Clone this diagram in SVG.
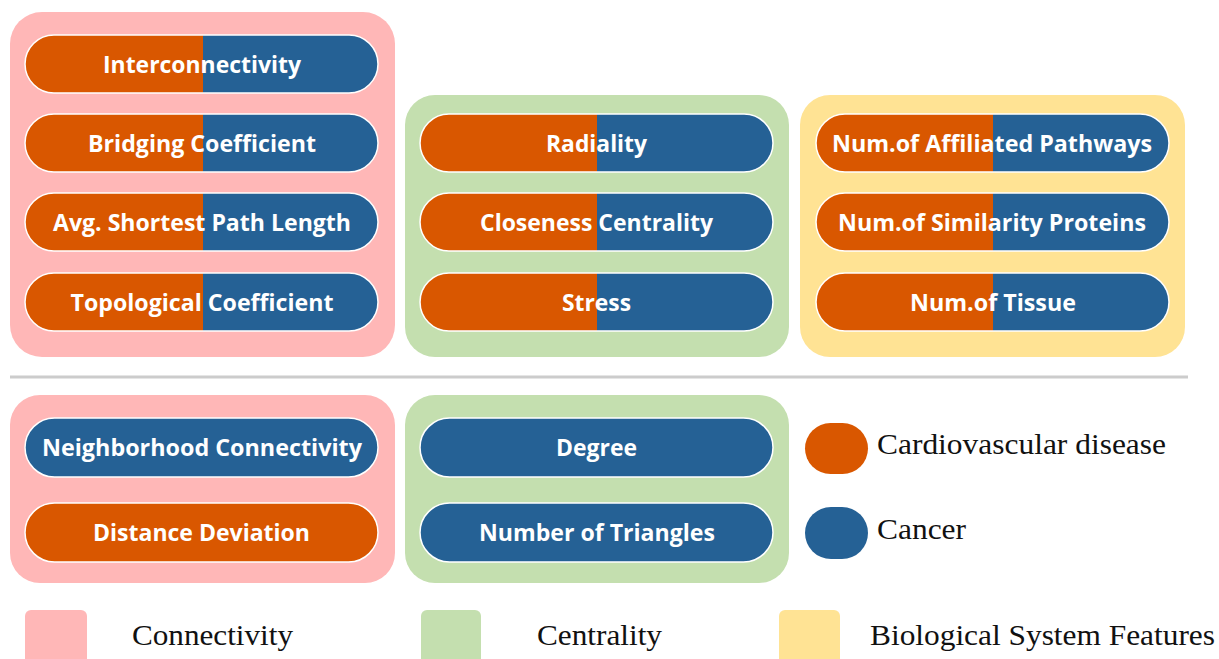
<svg xmlns="http://www.w3.org/2000/svg" width="1219" height="659" viewBox="0 0 1219 659">
  <defs>
    <style>
      .pink { fill: #FFB7B7; }
      .green { fill: #C4DFAF; }
      .yellow { fill: #FFE394; }
      .cvd { fill: #D95700; }
      .can { fill: #256195; }
      .rim { fill: none; stroke: #FFFFFF; stroke-width: 1.5; }
      .lbl { font-family: "Open Sans", "Liberation Sans", sans-serif; font-weight: 700; font-size: 23.5px; fill: #FFFFFF; text-anchor: middle; }
      .leg { font-family: "Liberation Serif", "Times New Roman", serif; font-size: 30px; fill: #111111; }
    </style>
  </defs>

  <rect width="1219" height="659" fill="#FFFFFF"/>

  <!-- category panels -->
  <g id="panels">
    <rect class="pink" x="10" y="12" width="385" height="345" rx="32"/>
    <rect class="green" x="405" y="95" width="384" height="262" rx="30"/>
    <rect class="yellow" x="800" y="95" width="385" height="262" rx="30"/>
    <rect class="pink" x="10" y="395" width="385" height="188" rx="30"/>
    <rect class="green" x="405" y="395" width="384" height="188" rx="30"/>
  </g>

  <!-- divider -->
  <g id="connectors">
    <line x1="10" y1="377" x2="1188" y2="377" stroke="#CCCCCC" stroke-width="3"/>
  </g>

  <!-- Connectivity: shared features -->
  <g id="interconnectivity">
    <path class="cvd" d="M54,35 H203 V93 H54 A29,29 0 0 1 54,35 Z"/>
    <path class="can" d="M203,35 H349 A29,29 0 0 1 349,93 H203 Z"/>
    <rect class="rim" x="25" y="35" width="353" height="58" rx="29"/>
    <text class="lbl" x="202" y="73" textLength="198" lengthAdjust="spacingAndGlyphs">Interconnectivity</text>
  </g>
  <g id="bridging-coefficient">
    <path class="cvd" d="M54,114 H203 V172 H54 A29,29 0 0 1 54,114 Z"/>
    <path class="can" d="M203,114 H349 A29,29 0 0 1 349,172 H203 Z"/>
    <rect class="rim" x="25" y="114" width="353" height="58" rx="29"/>
    <text class="lbl" x="202" y="152" textLength="228" lengthAdjust="spacingAndGlyphs">Bridging Coefficient</text>
  </g>
  <g id="avg-shortest-path">
    <path class="cvd" d="M54,193 H203 V251 H54 A29,29 0 0 1 54,193 Z"/>
    <path class="can" d="M203,193 H349 A29,29 0 0 1 349,251 H203 Z"/>
    <rect class="rim" x="25" y="193" width="353" height="58" rx="29"/>
    <text class="lbl" x="202" y="231" textLength="298" lengthAdjust="spacingAndGlyphs">Avg. Shortest Path Length</text>
  </g>
  <g id="topological-coefficient">
    <path class="cvd" d="M54,273 H203 V331 H54 A29,29 0 0 1 54,273 Z"/>
    <path class="can" d="M203,273 H349 A29,29 0 0 1 349,331 H203 Z"/>
    <rect class="rim" x="25" y="273" width="353" height="58" rx="29"/>
    <text class="lbl" x="202" y="311" textLength="263" lengthAdjust="spacingAndGlyphs">Topological Coefficient</text>
  </g>

  <!-- Centrality: shared features -->
  <g id="radiality">
    <path class="cvd" d="M449,114 H597 V172 H449 A29,29 0 0 1 449,114 Z"/>
    <path class="can" d="M597,114 H744 A29,29 0 0 1 744,172 H597 Z"/>
    <rect class="rim" x="420" y="114" width="353" height="58" rx="29"/>
    <text class="lbl" x="596.5" y="152" textLength="101" lengthAdjust="spacingAndGlyphs">Radiality</text>
  </g>
  <g id="closeness-centrality">
    <path class="cvd" d="M449,193 H597 V251 H449 A29,29 0 0 1 449,193 Z"/>
    <path class="can" d="M597,193 H744 A29,29 0 0 1 744,251 H597 Z"/>
    <rect class="rim" x="420" y="193" width="353" height="58" rx="29"/>
    <text class="lbl" x="596.5" y="231" textLength="233" lengthAdjust="spacingAndGlyphs">Closeness Centrality</text>
  </g>
  <g id="stress">
    <path class="cvd" d="M449,273 H597 V331 H449 A29,29 0 0 1 449,273 Z"/>
    <path class="can" d="M597,273 H744 A29,29 0 0 1 744,331 H597 Z"/>
    <rect class="rim" x="420" y="273" width="353" height="58" rx="29"/>
    <text class="lbl" x="596.5" y="311" textLength="69" lengthAdjust="spacingAndGlyphs">Stress</text>
  </g>

  <!-- Biological system features -->
  <g id="affiliated-pathways">
    <path class="cvd" d="M845,114 H993 V172 H845 A29,29 0 0 1 845,114 Z"/>
    <path class="can" d="M993,114 H1140 A29,29 0 0 1 1140,172 H993 Z"/>
    <rect class="rim" x="816" y="114" width="353" height="58" rx="29"/>
    <text class="lbl" x="992" y="152" textLength="320" lengthAdjust="spacingAndGlyphs">Num.of Affiliated Pathways</text>
  </g>
  <g id="similarity-proteins">
    <path class="cvd" d="M845,193 H993 V251 H845 A29,29 0 0 1 845,193 Z"/>
    <path class="can" d="M993,193 H1140 A29,29 0 0 1 1140,251 H993 Z"/>
    <rect class="rim" x="816" y="193" width="353" height="58" rx="29"/>
    <text class="lbl" x="992" y="231" textLength="308" lengthAdjust="spacingAndGlyphs">Num.of Similarity Proteins</text>
  </g>
  <g id="tissue">
    <path class="cvd" d="M845,273 H993 V331 H845 A29,29 0 0 1 845,273 Z"/>
    <path class="can" d="M993,273 H1140 A29,29 0 0 1 1140,331 H993 Z"/>
    <rect class="rim" x="816" y="273" width="353" height="58" rx="29"/>
    <text class="lbl" x="993" y="311" textLength="166" lengthAdjust="spacingAndGlyphs">Num.of Tissue</text>
  </g>

  <!-- Disease-specific features -->
  <g id="neighborhood-connectivity">
    <rect class="can" x="25" y="418" width="353" height="59" rx="29.5"/>
    <rect class="rim" x="25" y="418" width="353" height="59" rx="29.5"/>
    <text class="lbl" x="202" y="456" textLength="320" lengthAdjust="spacingAndGlyphs">Neighborhood Connectivity</text>
  </g>
  <g id="distance-deviation">
    <rect class="cvd" x="25" y="503" width="353" height="59" rx="29.5"/>
    <rect class="rim" x="25" y="503" width="353" height="59" rx="29.5"/>
    <text class="lbl" x="201.5" y="541" textLength="217" lengthAdjust="spacingAndGlyphs">Distance Deviation</text>
  </g>
  <g id="degree">
    <rect class="can" x="420" y="418" width="353" height="59" rx="29.5"/>
    <rect class="rim" x="420" y="418" width="353" height="59" rx="29.5"/>
    <text class="lbl" x="596.5" y="456" textLength="81" lengthAdjust="spacingAndGlyphs">Degree</text>
  </g>
  <g id="number-of-triangles">
    <rect class="can" x="420" y="503" width="353" height="59" rx="29.5"/>
    <rect class="rim" x="420" y="503" width="353" height="59" rx="29.5"/>
    <text class="lbl" x="597" y="541" textLength="236" lengthAdjust="spacingAndGlyphs">Number of Triangles</text>
  </g>

  <!-- disease legend -->
  <g id="legend-disease">
    <rect class="cvd" x="805" y="423" width="63" height="51" rx="25.5"/>
    <text class="leg" x="877" y="454" textLength="289" lengthAdjust="spacingAndGlyphs">Cardiovascular disease</text>
    <rect class="can" x="805" y="507" width="63" height="52" rx="26"/>
    <text class="leg" x="877" y="539" textLength="89" lengthAdjust="spacingAndGlyphs">Cancer</text>
  </g>

  <!-- category legend -->
  <g id="legend-category">
    <rect class="pink" x="25" y="610" width="62" height="60" rx="6"/>
    <text class="leg" x="132" y="645" textLength="161" lengthAdjust="spacingAndGlyphs">Connectivity</text>
    <rect class="green" x="421" y="610" width="60" height="60" rx="6"/>
    <text class="leg" x="537" y="645" textLength="125" lengthAdjust="spacingAndGlyphs">Centrality</text>
    <rect class="yellow" x="779" y="610" width="61" height="60" rx="6"/>
    <text class="leg" x="870" y="645" textLength="345" lengthAdjust="spacingAndGlyphs">Biological System Features</text>
  </g>
</svg>
